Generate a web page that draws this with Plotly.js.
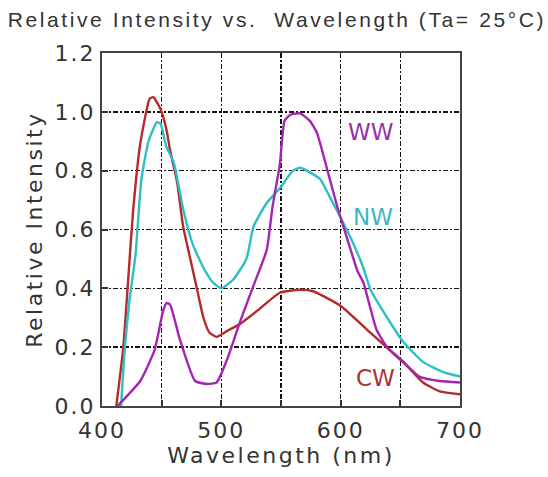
<!DOCTYPE html>
<html>
<head>
<meta charset="utf-8">
<script src="https://cdn.plot.ly/plotly-3.0.1.min.js"></script>
<style>
  html, body { margin: 0; padding: 0; background: #fff; }
  #chart { width: 548px; height: 477px; }
  .xtitle, .ytitle { letter-spacing: 2.5px; }
  .gtitle { letter-spacing: 2.6px; }
  .xtick text, .ytick text { letter-spacing: 2px; }
</style>
</head>
<body>
<div id="chart"></div>
<script>
// Cool white (CW)
const cwX = [412, 417.6, 421.8, 426, 432, 440, 443, 449, 454, 457, 463, 468, 474, 480, 485, 490, 496, 507, 516, 532, 549, 566, 577, 600, 622, 641, 656, 669, 683, 700];
const cwY = [0.0, 0.19, 0.42, 0.66, 0.89, 1.045, 1.05, 1.01, 0.94, 0.87, 0.76, 0.61, 0.50, 0.39, 0.30, 0.25, 0.235, 0.26, 0.28, 0.33, 0.385, 0.395, 0.39, 0.34, 0.26, 0.19, 0.135, 0.08, 0.05, 0.04];
// Neutral white (NW)
const nwX = [416, 419, 423, 428, 433, 439, 446, 449, 454, 460, 468, 476, 485, 493, 500, 510, 521, 527, 538, 549, 560, 566, 574, 583, 591, 600, 608, 619, 625, 639, 652, 669, 686, 700];
const nwY = [0.0, 0.19, 0.36, 0.51, 0.77, 0.90, 0.965, 0.96, 0.88, 0.83, 0.67, 0.55, 0.47, 0.42, 0.40, 0.43, 0.50, 0.61, 0.69, 0.74, 0.80, 0.81, 0.795, 0.77, 0.71, 0.64, 0.575, 0.47, 0.395, 0.30, 0.22, 0.15, 0.115, 0.10];
// Warm white (WW)
const wwX = [413, 432, 444, 451, 454, 457, 465, 478, 488, 496, 505, 516, 527, 538, 543, 549, 553, 558, 566, 574, 580, 589, 597, 605, 614, 619, 630, 639, 650, 666, 683, 700];
const wwY = [0.0, 0.085, 0.19, 0.32, 0.35, 0.345, 0.23, 0.085, 0.075, 0.08, 0.16, 0.29, 0.41, 0.53, 0.68, 0.82, 0.97, 0.99, 0.995, 0.97, 0.93, 0.80, 0.68, 0.575, 0.46, 0.42, 0.26, 0.20, 0.16, 0.10, 0.085, 0.08];

const seriesNames = ['CW', 'NW', 'WW'];
const seriesColors = ['#b52a2a', '#2cbfc4', '#a424b4'];
const labelColors = ['#a93434', '#3bb8c2', '#9a30a6'];
const labelX = [629, 627, 625];
const labelY = [0.095, 0.643, 0.93];

const xTickVals = [400, 500, 600, 700];
const yTickVals = [0.0, 0.2, 0.4, 0.6, 0.8, 1.0, 1.2];
const yTickText = ['0.0', '0.2', '0.4', '0.6', '0.8', '1.0', '1.2'];

const xs = [cwX, nwX, wwX];
const ys = [cwY, nwY, wwY];

const traces = seriesNames.map((n, i) => ({
  x: xs[i], y: ys[i], mode: 'lines', name: n,
  line: { color: seriesColors[i], width: 2.4, shape: 'spline', smoothing: 0.5 },
  hoverinfo: 'skip'
}));

const annotations = seriesNames.map((n, i) => ({
  x: labelX[i], y: labelY[i], xref: 'x', yref: 'y',
  text: n, showarrow: false,
  font: { family: 'DejaVu Sans, sans-serif', size: 23, color: labelColors[i] },
  xanchor: 'center', yanchor: 'middle'
}));

const gridStyle = { gridcolor: '#111', gridwidth: 1.6, griddash: '5px,2px,2px,2px' };

const layout = {
  width: 548, height: 477,
  margin: { l: 102, r: 88, t: 53, b: 71 },
  paper_bgcolor: '#fff', plot_bgcolor: '#fff',
  showlegend: false,
  font: { family: 'DejaVu Sans, sans-serif', color: '#333' },
  title: {
    text: 'Relative Intensity vs.  Wavelength (Ta= 25°C)',
    font: { family: 'Liberation Sans, Arial, sans-serif', size: 21, color: '#333' },
    x: 0.014, xref: 'container', xanchor: 'left',
    y: 0.958, yref: 'container', yanchor: 'middle'
  },
  xaxis: {
    range: [400, 700], tickvals: xTickVals,
    showline: true, linecolor: '#444', linewidth: 2, mirror: true,
    ticks: 'inside', ticklen: 6, tickwidth: 2, tickcolor: '#333',
    ticklabelstandoff: 4,
    showgrid: true, ...gridStyle,
    minor: { dtick: 50, tick0: 400, showgrid: true, ...gridStyle, ticks: 'inside', ticklen: 6, tickwidth: 2, tickcolor: '#333' },
    zeroline: false,
    tickfont: { family: 'DejaVu Sans, sans-serif', size: 22, color: '#333' },
    title: { text: 'Wavelength (nm)', font: { family: 'DejaVu Sans, sans-serif', size: 22, color: '#333' }, standoff: 4 }
  },
  yaxis: {
    range: [0, 1.2], tickvals: yTickVals, ticktext: yTickText,
    showline: true, linecolor: '#444', linewidth: 2, mirror: true,
    ticks: 'inside', ticklen: 6, tickwidth: 2, tickcolor: '#333',
    showgrid: true, ...gridStyle,
    zeroline: false,
    tickfont: { family: 'DejaVu Sans, sans-serif', size: 22, color: '#333' },
    title: { text: 'Relative Intensity', font: { family: 'DejaVu Sans, sans-serif', size: 22, color: '#333' }, standoff: 6 }
  },
  annotations: annotations
};

Plotly.newPlot('chart', traces, layout, { displayModeBar: false, staticPlot: true });
</script>
</body>
</html>
